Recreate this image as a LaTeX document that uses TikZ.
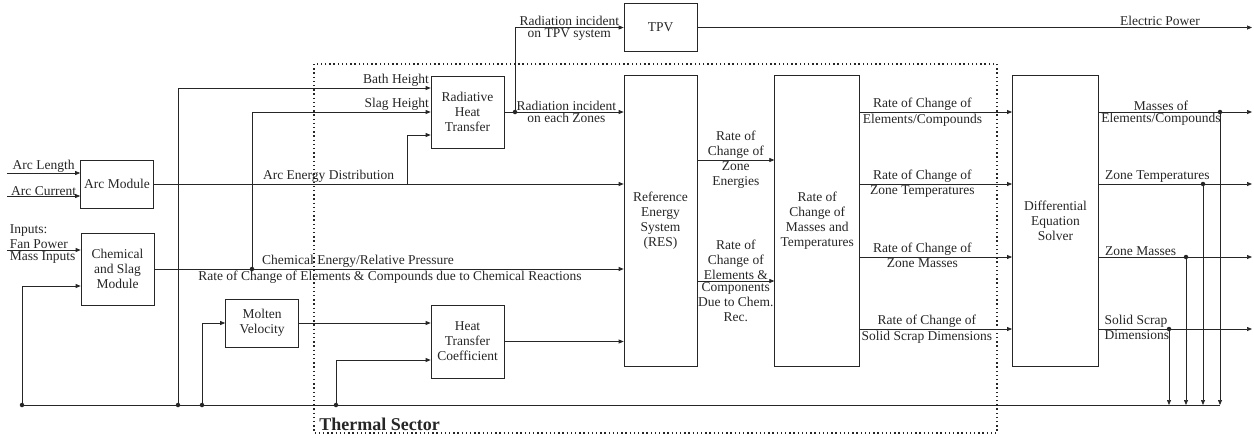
\documentclass[tikz,border=0pt]{standalone}
\usepackage{fontspec}
\setmainfont{Liberation Serif}
\usetikzlibrary{arrows.meta, positioning}

\begin{document}
\begin{tikzpicture}[x=1pt,y=-1pt,font=\fontsize{13.5}{15}\selectfont,
    color=black!85,line width=0.7pt,>={Triangle[length=5pt,width=4pt]},
    block/.style={draw,minimum width=73pt,align=center,inner sep=1pt},
    lbl/.style={inner sep=1.5pt,align=center},
    dot/.style={circle,fill,inner sep=0pt,minimum size=4.5pt},
    sector/.style={line width=1.4pt,dash pattern=on 1.4pt off 2.8pt}]
\useasboundingbox (0,0) rectangle (1254,437);

\node[block,minimum height=48pt] (arc) at (117,184) {Arc Module};
\node[block,minimum height=72pt] (chem) at (117.5,269) {Chemical\\and Slag\\Module};
\node[block,minimum height=48pt] (mv) at (262,323) {Molten\\Velocity};
\node[block,minimum height=72pt] (rht) at (467.5,112) {Radiative\\Heat\\Transfer};
\node[block,minimum height=73pt] (htc) at (467.5,341.5) {Heat\\Transfer\\Coefficient};
\node[block,minimum height=48pt] (tpv) at (660.5,27.5) {TPV};
\node[block,minimum height=291pt] (res) at (660.5,220.5) {Reference\\Energy\\System\\(RES)};
\node[block,minimum width=85pt,minimum height=291pt] (mt) [right=77pt of res] {Rate of\\Change of\\Masses and\\Temperatures};
\node[block,minimum width=86pt,minimum height=291pt] (des) [right=152pt of mt] {Differential\\Equation\\Solver};

\draw[sector] (314,64) rectangle (997,433);
\node[anchor=base west,inner sep=0pt,font=\bfseries\fontsize{18}{20}\selectfont] (ts) at (319,430) {Thermal Sector};

\coordinate (al) at (7,173);
\coordinate (ac) at (7,196);
\coordinate (fp) at (7,250);
\coordinate (jc) at (22,405);
\coordinate (jb) at (178,405);
\coordinate (jm) at (202,405);
\coordinate (jh) at (336,405);
\coordinate (be) at (1220,405);
\coordinate (js) at (252,269);
\coordinate (ja) at (407,184);
\coordinate (jr) at (515,112);
\coordinate (ep) at (1252,27.5);
\coordinate (d1) at (1220,112);
\coordinate (d2) at (1203,184);
\coordinate (d3) at (1186,257);
\coordinate (d4) at (1169,329);
\coordinate (o1) at (1252,112);
\coordinate (o2) at (1252,184);
\coordinate (o3) at (1252,257);
\coordinate (o4) at (1252,329);

\draw[->] (al) -- (al -| arc.west) node[lbl,midway,above,inner sep=0.5pt] {Arc Length};
\draw[->] (ac) -- (ac -| arc.west) node[lbl,midway,above,inner sep=0.5pt] {Arc Current};
\draw[->] (fp) -- (fp -| chem.west);
\node[lbl,anchor=south west,align=left,inner sep=1.5pt] (inp) at (8,250) {Inputs:\\Fan Power};
\node[lbl,anchor=north west,inner sep=1.5pt] (mi) at (8,250) {Mass Inputs};

\draw (jc) -- (be);
\draw[->] (jc) |- ([yshift=-17pt]chem.west);
\draw[->] (jm) |- (mv.west);
\draw[->] (jh) |- ([yshift=-18.5pt]htc.west);
\draw[->] (jb) |- ([yshift=24pt]rht.west) node[lbl,anchor=south east,pos=1] {Bath Height};
\draw[->] (js) |- (rht.west) node[lbl,anchor=south east,pos=1] {Slag Height};
\draw[->] (ja) |- ([yshift=-23pt]rht.west);
\draw[->] (mv.east) -- (mv.east -| htc.west);
\draw[->] (htc.east) -- (htc.east -| res.west);

\draw[->] (arc.east) -- (arc.east -| res.west)
  node[lbl,above,pos=.372] {Arc Energy Distribution};
\draw[->] (chem.east) -- (chem.east -| res.west)
  node[lbl,above,pos=.434] {Chemical Energy/Relative Pressure}
  node[lbl,below,pos=.502] {Rate of Change of Elements \& Compounds due to Chemical Reactions};
\draw[->] (rht.east) -- (rht.east -| res.west)
  node[lbl,above,pos=.52,inner sep=1pt] {Radiation incident}
  node[lbl,below,pos=.52,inner sep=1pt] {on each Zones};
\draw[->] (jr) -- (jr |- tpv.west) -- (tpv.west)
  node[lbl,above,midway,inner sep=1.2pt] {Radiation incident}
  node[lbl,below,midway,inner sep=1.2pt] {on TPV system};
\draw[->] (tpv.east) -- (ep) node[lbl,above,pos=.834] {Electric Power};

\path[->]
  ([yshift=60.5pt]res.east) edge node[lbl,above] {Rate of\\Change of} node[lbl,below] {Zone\\Energies} ([yshift=60.5pt]mt.west)
  ([yshift=-60.5pt]res.east) edge node[lbl,above] {Rate of\\Change of\\Elements \&} node[lbl,below] {Components\\Due to Chem.\\Rec.} ([yshift=-60.5pt]mt.west)
  ([yshift=108.5pt]mt.east) edge node[lbl,above,pos=.41] {Rate of Change of} node[lbl,below,pos=.41] {Elements/Compounds} ([yshift=108.5pt]des.west)
  ([yshift=36.5pt]mt.east) edge node[lbl,above,pos=.41] {Rate of Change of} node[lbl,below,pos=.41] {Zone Temperatures} ([yshift=36.5pt]des.west)
  ([yshift=-36.5pt]mt.east) edge node[lbl,above,pos=.41] {Rate of Change of} node[lbl,below,pos=.41] {Zone Masses} ([yshift=-36.5pt]des.west)
  ([yshift=-108.5pt]mt.east) edge node[lbl,above,pos=.44] {Rate of Change of} node[lbl,below,pos=.44] {Solid Scrap Dimensions} ([yshift=-108.5pt]des.west);

\draw[->] (des.east |- o1) -- (o1)
  node[lbl,above,pos=.406,inner sep=1pt] {Masses of}
  node[lbl,below,pos=.406,inner sep=1pt] {Elements/Compounds};
\draw[->] (des.east |- o2) -- (o2) node[lbl,anchor=south west,pos=.03] {Zone Temperatures};
\draw[->] (des.east |- o3) -- (o3) node[lbl,anchor=south west,pos=.03] {Zone Masses};
\draw[->] (des.east |- o4) -- (o4)
  node[lbl,anchor=south west,pos=.03,inner sep=1pt] {Solid Scrap}
  node[lbl,anchor=north west,pos=.03,inner sep=1pt] {Dimensions};

\draw[->] (d1) -- (d1 |- be);
\draw[->] (d2) -- (d2 |- be);
\draw[->] (d3) -- (d3 |- be);
\draw[->] (d4) -- (d4 |- be);

\foreach \j in {jc,jb,jm,jh,js,jr,d1,d2,d3,d4}
  \node[dot] at (\j) {};
\end{tikzpicture}
\end{document}
